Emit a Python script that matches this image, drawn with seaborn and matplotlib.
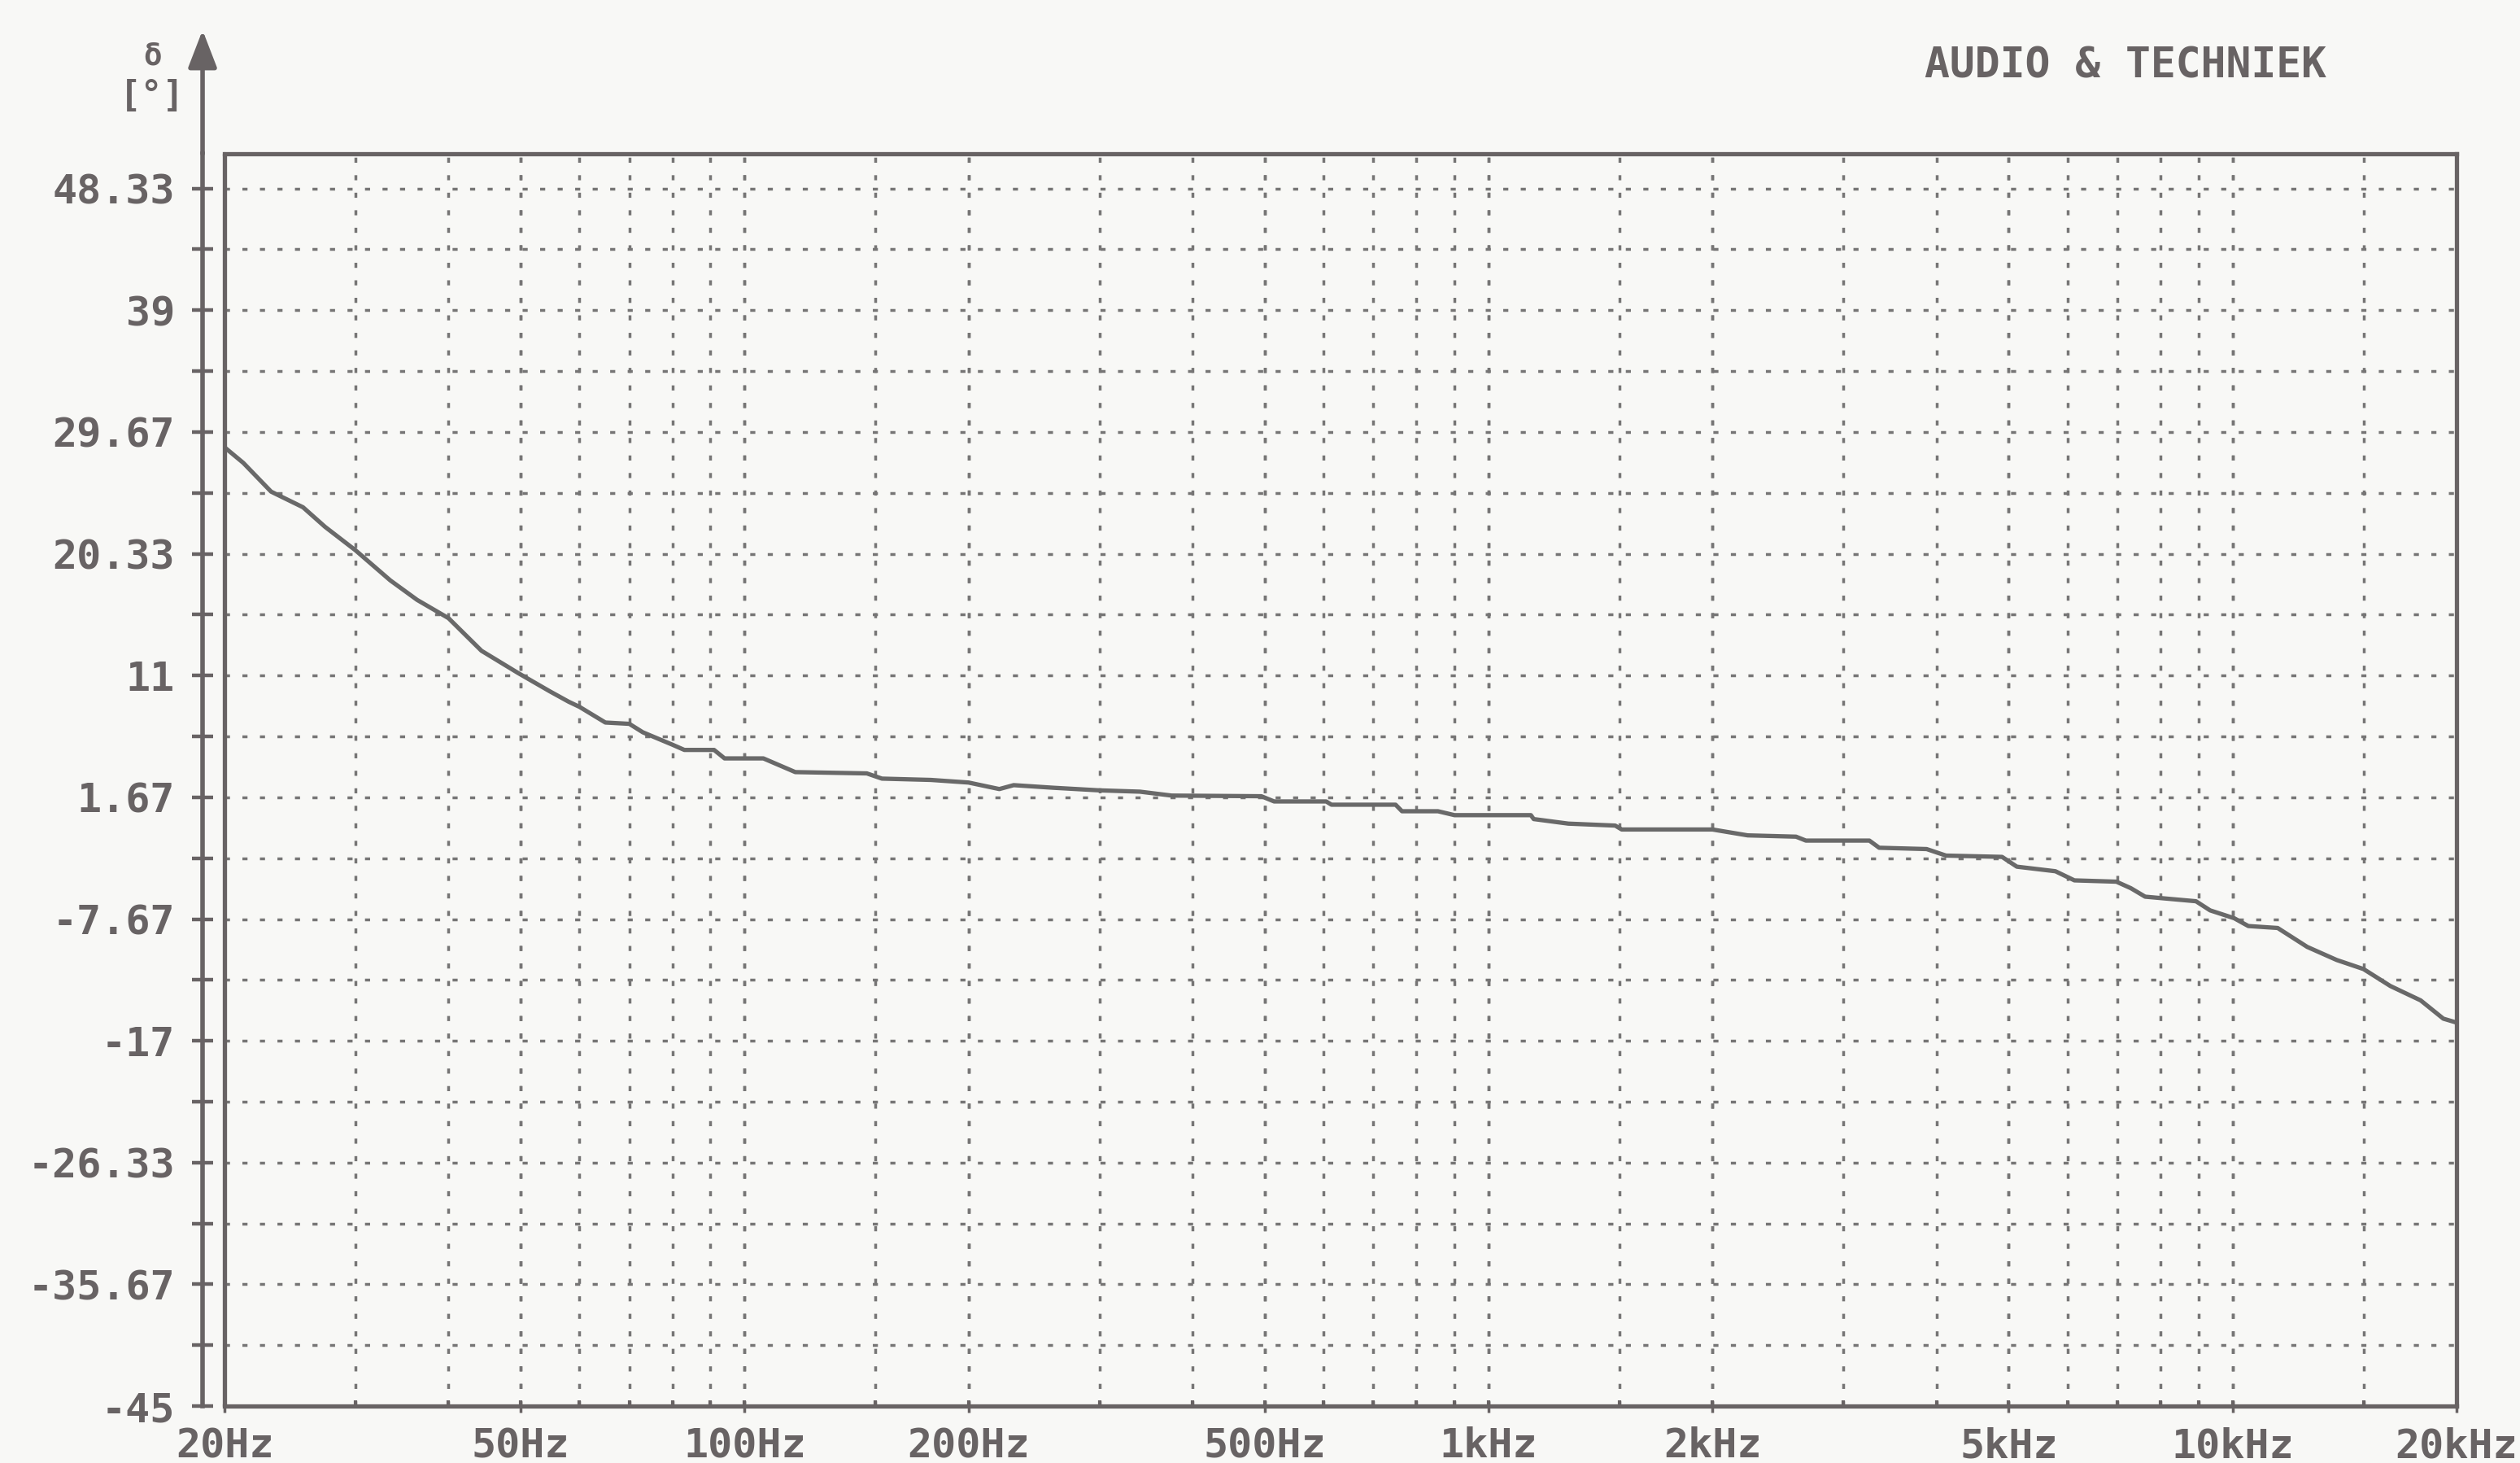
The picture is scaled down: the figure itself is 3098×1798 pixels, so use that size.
import matplotlib
matplotlib.use("Agg")
import matplotlib.pyplot as plt
from matplotlib.ticker import FixedLocator, FixedFormatter, NullFormatter
import pandas as pd
import seaborn as sns

# Phase response of the measured device (frequency in Hz, phase in degrees)
freq_hz = [20, 21.2, 23.1, 25.5, 27.3, 30, 33.4, 36.3, 40, 44.3, 49.6, 54.7, 58, 60,
           65, 70, 73, 80, 83, 91, 94, 106, 117, 146, 153, 178, 200, 220, 230, 260,
           300, 340, 375, 495, 515, 605, 615, 750, 765, 855, 900, 1140, 1150, 1280,
           1480, 1510, 2000, 2230, 2590, 2670, 3250, 3350, 3880, 4120, 4900, 5130,
           5780, 6130, 6980, 7300, 7630, 8930, 9330, 10050, 10500, 11500, 12600,
           13800, 15000, 16300, 17900, 19200, 20000]
phase_deg = [28.5, 27.3, 25.1, 23.9, 22.4, 20.6, 18.3, 16.8, 15.4, 12.9, 11.2, 9.8, 9.0, 8.6,
             7.4, 7.3, 6.65, 5.7, 5.3, 5.3, 4.65, 4.65, 3.6, 3.5, 3.1, 3.0, 2.8, 2.3, 2.6, 2.4,
             2.2, 2.1, 1.8, 1.75, 1.35, 1.35, 1.1, 1.1, 0.6, 0.6, 0.3, 0.3, 0.0, -0.35,
             -0.5, -0.8, -0.8, -1.25, -1.35, -1.65, -1.65, -2.2, -2.3, -2.8, -2.9, -3.65,
             -4.0, -4.7, -4.8, -5.3, -5.95, -6.3, -7.0, -7.6, -8.2, -8.35, -9.8,
             -10.8, -11.5, -12.8, -13.9, -15.3, -15.6]

y_tick_values = [-45, -35.67, -26.33, -17, -7.67, 1.67, 11, 20.33, 29.67, 39, 48.33]
y_tick_labels = ["-45", "-35.67", "-26.33", "-17", "-7.67", "1.67", "11", "20.33",
                 "29.67", "39", "48.33"]
y_half_steps = [-40.33, -31, -21.67, -12.33, -3, 6.33, 15.67, 25, 34.33, 43.67]

x_label_freqs = [20, 50, 100, 200, 500, 1000, 2000, 5000, 10000, 20000]
x_labels = ["20Hz", "50Hz", "100Hz", "200Hz", "500Hz", "1kHz", "2kHz", "5kHz",
            "10kHz", "20kHz"]
x_grid_freqs = [30, 40, 50, 60, 70, 80, 90, 100, 150, 200, 300, 400, 500, 600, 700,
                800, 900, 1000, 1500, 2000, 3000, 4000, 5000, 6000, 7000, 8000, 9000,
                10000, 15000]

title_text = "AUDIO & TECHNIEK"
unit_symbol = "δ"
unit_text = "[°]"

paper = "#f8f8f6"
ink = "#686364"
grid_ink = "#767575"
curve_ink = "#696969"

sns.set_theme(style="white")
plt.rcParams["font.family"] = ["DejaVu Sans Mono", "DejaVu Sans"]
plt.rcParams["font.weight"] = "bold"

fig = plt.figure(figsize=(30.98, 17.98), dpi=100, facecolor=paper)
ax = fig.add_axes([0.0891, 0.0389, 0.8857, 0.856])
ax.set_facecolor(paper)

df = pd.DataFrame({"freq": freq_hz, "phase": phase_deg})
sns.lineplot(data=df, x="freq", y="phase", ax=ax, color=curve_ink, linewidth=3.8,
             estimator=None, sort=False)

ax.set_xscale("log")
ax.set_xlim(20, 20000)
ax.set_ylim(-45, 51)
ax.set_xlabel("")
ax.set_ylabel("")

# x axis: labelled ticks below the frame, small inner marks at every grid line
ax.xaxis.remove_overlapping_locs = False
ax.xaxis.set_major_locator(FixedLocator(x_label_freqs))
ax.xaxis.set_major_formatter(FixedFormatter(x_labels))
ax.xaxis.set_minor_locator(FixedLocator(x_grid_freqs))
ax.xaxis.set_minor_formatter(NullFormatter())
ax.tick_params(axis="x", which="major", direction="out", length=6, width=2.5,
               color=ink, pad=12, labelsize=36, labelcolor=ink, bottom=True)
ax.tick_params(axis="x", which="minor", direction="in", length=5, width=3,
               color=ink, bottom=True)

# y axis: a separate arrowed axis line left of the frame
ax.yaxis.set_major_locator(FixedLocator(y_tick_values))
ax.yaxis.set_major_formatter(FixedFormatter(y_tick_labels))
ax.yaxis.set_minor_locator(FixedLocator(y_half_steps))
ax.yaxis.set_minor_formatter(NullFormatter())
ax.tick_params(axis="y", which="both", direction="inout", length=19, width=3.2,
               color=ink, left=True)
ax.tick_params(axis="y", which="major", pad=15, labelsize=36, labelcolor=ink)

ax.grid(True, which="both", axis="both", color=grid_ink, linewidth=2.5,
        linestyle=(0, (1.8, 4.4)))

for side in ["top", "right", "bottom"]:
    ax.spines[side].set_color(ink)
    ax.spines[side].set_linewidth(3.8)
ax.spines["left"].set_position(("outward", 19.4))
ax.spines["left"].set_color(ink)
ax.spines["left"].set_linewidth(4.0)

# frame edge on the left, at the lowest frequency
ax.axvline(20, color=ink, linewidth=3.8, clip_on=False, zorder=3)

# arrow continuing the y axis line above the frame
axis_x = 0.0891 - 27 / 3098
ax.annotate("", xy=(axis_x, 0.9794), xytext=(axis_x, 0.8949),
            xycoords="figure fraction", textcoords="figure fraction",
            arrowprops=dict(arrowstyle="-|>,head_length=0.7,head_width=0.27",
                            mutation_scale=40, color=ink, lw=4.0,
                            shrinkA=0, shrinkB=0))

fig.text(0.0604, 0.9615, unit_symbol, ha="center", va="center", fontsize=27,
         color=ink)
fig.text(0.0604, 0.9340, unit_text, ha="center", va="center", fontsize=32,
         color=ink)
fig.text(0.8435, 0.9544, title_text, ha="center", va="center", fontsize=37,
         color=ink)

fig.savefig("out.png", dpi=100, facecolor=paper)
